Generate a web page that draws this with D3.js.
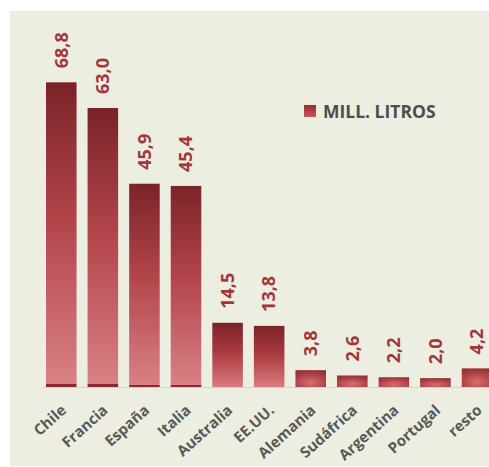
<!DOCTYPE html>
<html>
<head>
<meta charset="utf-8">
<script src="https://cdn.jsdelivr.net/npm/d3@7"></script>
<style>
  body { margin: 0; background: #fff; }
  text { font-family: "Open Sans", sans-serif; font-weight: bold; }
</style>
</head>
<body>
<script>
// datos: millones de litros
var paises = ["Chile", "Francia", "España", "Italia", "Australia", "EE.UU.",
  "Alemania", "Sudáfrica", "Argentina", "Portugal", "resto"];
var litros = [68.8, 63.0, 45.9, 45.4, 14.5, 13.8, 3.8, 2.6, 2.2, 2.0, 4.2];
var serie = "MILL. LITROS";

var width = 489;
var height = 467;
var base = 387;

var svg = d3.select("body")
  .append("svg")
  .attr("width", width)
  .attr("height", height);

var defs = svg.append("defs");

var lin = defs.append("linearGradient")
  .attr("id", "grad-lin")
  .attr("x1", 0).attr("y1", 0).attr("x2", 0).attr("y2", 1);
lin.append("stop").attr("offset", "0%").attr("stop-color", "#7a2428");
lin.append("stop").attr("offset", "45%").attr("stop-color", "#a9393e");
lin.append("stop").attr("offset", "100%").attr("stop-color", "#d97c7e");

var linTall = defs.append("linearGradient")
  .attr("id", "grad-tall")
  .attr("x1", 0).attr("y1", 0).attr("x2", 0).attr("y2", 1);
linTall.append("stop").attr("offset", "0%").attr("stop-color", "#7a2428");
linTall.append("stop").attr("offset", "45%").attr("stop-color", "#b2444a");
linTall.append("stop").attr("offset", "98.9%").attr("stop-color", "#d98184");
linTall.append("stop").attr("offset", "99.1%").attr("stop-color", "#8a2a2f");
linTall.append("stop").attr("offset", "100%").attr("stop-color", "#8a2a2f");

var rad = defs.append("radialGradient")
  .attr("id", "grad-rad")
  .attr("cx", 0.5).attr("cy", 0.75).attr("r", 0.75);
rad.append("stop").attr("offset", "0%").attr("stop-color", "#d86c70");
rad.append("stop").attr("offset", "100%").attr("stop-color", "#9a2e33");

var leg = defs.append("linearGradient")
  .attr("id", "grad-leg")
  .attr("x1", 0).attr("y1", 0).attr("x2", 0).attr("y2", 1);
leg.append("stop").attr("offset", "0%").attr("stop-color", "#9a2c31");
leg.append("stop").attr("offset", "100%").attr("stop-color", "#c8575b");

// fondo
svg.append("rect")
  .attr("x", 10)
  .attr("y", 11)
  .attr("width", width - 10)
  .attr("height", height - 12)
  .attr("fill", "#ebeee0");

var x = d3.scaleBand()
  .domain(paises)
  .range([40.5, 497.8])
  .paddingInner(0.265)
  .paddingOuter(0.1325);

var y = d3.scaleLinear()
  .domain([0, 70])
  .range([base, 77]);

svg.append("line")
  .attr("x1", 42).attr("x2", width)
  .attr("y1", base + 0.5).attr("y2", base + 0.5)
  .attr("stroke", "#d6d2c6")
  .attr("stroke-width", 1);

svg.selectAll(".bar")
  .data(litros)
  .enter()
  .append("rect")
  .attr("class", "bar")
  .attr("x", function(d, i) { return x(paises[i]); })
  .attr("y", function(d) { return y(d); })
  .attr("width", x.bandwidth())
  .attr("height", function(d) { return base - y(d); })
  .attr("fill", function(d) {
    if (d > 40) return "url(#grad-tall)";
    if (d > 10) return "url(#grad-lin)";
    return "url(#grad-rad)";
  });

svg.selectAll(".valor")
  .data(litros)
  .enter()
  .append("text")
  .attr("class", "valor")
  .attr("transform", function(d, i) {
    return "translate(" + (x(paises[i]) + x.bandwidth() / 2) + "," + (y(d) - 14) + ") rotate(-90)";
  })
  .attr("dy", "0.35em")
  .attr("fill", "#a3363b")
  .style("font-size", "18px")
  .text(function(d) { return d3.format(".1f")(d).replace(".", ","); });

var xAxis = svg.append("g")
  .attr("transform", "translate(0," + base + ")")
  .call(d3.axisBottom(x).tickSize(0));
xAxis.select(".domain").remove();
xAxis.selectAll("text")
  .attr("x", -12)
  .attr("y", 17)
  .attr("dy", "0.35em")
  .attr("transform", "rotate(-42)")
  .style("text-anchor", "end")
  .style("font-size", "15px")
  .style("font-family", "'Open Sans', sans-serif")
  .style("font-weight", "bold")
  .attr("fill", "#595959");

// leyenda
var leyenda = svg.append("g")
  .attr("transform", "translate(304,105)");
leyenda.append("rect")
  .attr("width", 12)
  .attr("height", 12)
  .attr("fill", "url(#grad-leg)");
leyenda.append("text")
  .attr("x", 19)
  .attr("y", 12.5)
  .attr("fill", "#4d4d4d")
  .style("font-size", "17.5px")
  .text(serie);
</script>
</body>
</html>
